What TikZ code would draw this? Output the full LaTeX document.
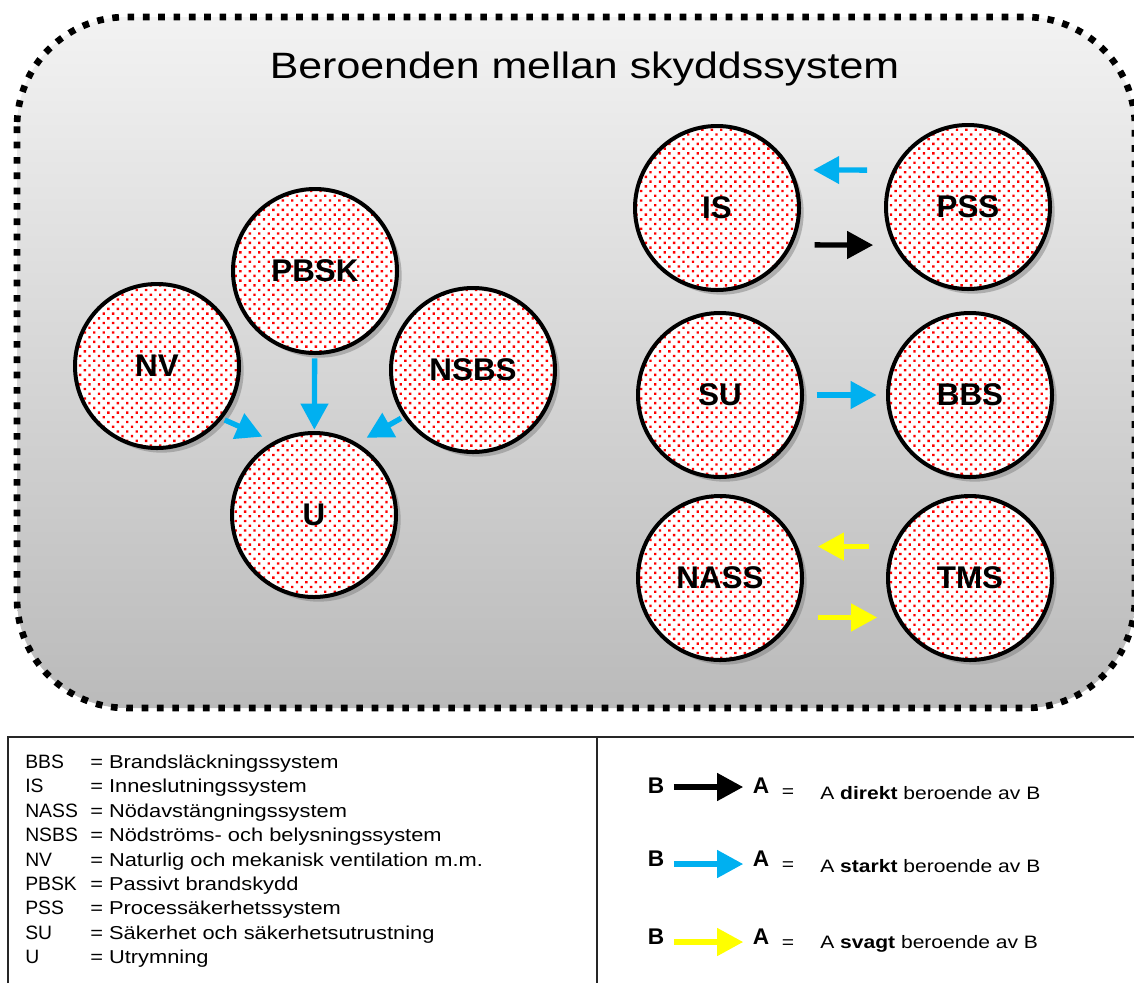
\documentclass[tikz,border=0pt]{standalone}
\usepackage{fontspec}
\setmainfont{Liberation Sans}
\newfontfamily\widefont{Liberation Sans}[FakeStretch=1.17]
\usetikzlibrary{arrows.meta,patterns.meta,shadows}
\definecolor{starkblue}{RGB}{0,176,240}
\definecolor{svaggul}{RGB}{255,255,0}

\begin{document}
\begin{tikzpicture}[
      x=0.75pt, y=-0.75pt,
      every node/.style={font=\widefont},
      frame/.style={draw=black, line width=5pt, dash pattern=on 5pt off 6.5pt, rounded corners=82pt, top color=black!5, bottom color=black!27},
      title/.style={anchor=base, inner sep=0pt, font=\widefont\fontsize{27.5}{33}\selectfont},
      sys/.style={circle, draw=black, line width=3pt, minimum size=123pt, inner sep=0pt,
          drop shadow={shadow xshift=3.5pt, shadow yshift=-3.5pt, fill=black!50},
          preaction={fill=white}, pattern={Dots[distance=5pt, radius=1.25pt, angle=45]}, pattern color=red,
          font=\normalfont\bfseries\fontsize{23.5}{28}\selectfont},
      link/.style={line width=4pt, -{Triangle[length=19.5pt, width=20pt]}},
      direkt/.style={link, draw=black},
      starkt/.style={link, draw=starkblue},
      svagt/.style={link, draw=svaggul},
      tablerule/.style={line width=1.3pt, draw=black!85},
      abbr/.style={anchor=base west, inner sep=0pt, font=\normalfont\fontsize{14.5}{17}\selectfont},
      desc/.style={abbr, font=\widefont\fontsize{14}{17}\selectfont},
      letter/.style={inner sep=0pt, font=\normalfont\bfseries\fontsize{17}{20}\selectfont},
      meaning/.style={anchor=west, inner sep=0pt, font=\widefont\fontsize{13.5}{16}\selectfont}
  ]
    \useasboundingbox (0,0) rectangle (1134,983);
    \clip (0,0) rectangle (1134,983);

    % frame with title
    \path[frame] (17,17) rectangle (1135,708);
    \node[title] (title) at (584.5,78) {Beroenden mellan skyddssystem};

    % systems
    \node[sys] (pbsk) at (315,271) {PBSK};
    \node[sys] (nv) at (157,366) {NV};
    \node[sys] (nsbs) at (473,370) {NSBS};
    \node[sys] (u) at (314,515) {U};
    \node[sys] (is) at (717,208) {IS};
    \node[sys] (pss) at (968,207) {PSS};
    \node[sys] (su) at (720,395) {SU};
    \node[sys] (bbs) at (970,395) {BBS};
    \node[sys] (nass) at (720,578) {NASS};
    \node[sys] (tms) at (970,578) {TMS};

    % dependencies
    \draw[starkt, shorten <=2.5pt, shorten >=1pt] (pbsk) -- (u);
    \draw[starkt, shorten <=2pt, shorten >=9pt] (nv.-39) -- (u.119);
    \draw[starkt, shorten <=2pt, shorten >=8pt] (nsbs.214) -- (u.59);
    \draw[starkt, shorten <=19pt, shorten >=16pt] (pss.154) -- (is.27);
    \draw[direkt, shorten <=16.5pt, shorten >=15pt] (is.-26) -- (pss.207);
    \draw[starkt, shorten <=9.5pt, shorten >=7pt] (su) -- (bbs);
    \draw[svagt, shorten <=17pt, shorten >=15pt] (tms.158) -- (nass.22);
    \draw[svagt, shorten <=18pt, shorten >=14pt] (nass.-28) -- (tms.208);

    % legend table
    \draw[tablerule] (8,983) -- (8,737) -- (1134,737);
    \draw[tablerule] (597,737) -- (597,983);
    \foreach \ab/\txt [count=\i] in {BBS/Brandsläckningssystem, IS/Inneslutningssystem, NASS/Nödavstängningssystem, NSBS/Nödströms- och belysningssystem, NV/Naturlig och mekanisk ventilation m.m., PBSK/Passivt brandskydd, PSS/Processäkerhetssystem, SU/Säkerhet och säkerhetsutrustning, U/Utrymning} {
      \node[abbr] (abbr\i) at (25,{768.5+24.4*(\i-1)}) {\ab};
      \node[desc] (desc\i) at (90,{768.5+24.4*(\i-1)}) {= \txt};
    }
    \foreach \kind/\y/\ay in {direkt/786/787, starkt/859/864, svagt/937/942} {
      \node[letter] (b\kind) at (656,\y) {B};
      \node[letter] (a\kind) at (761,\y) {A};
      \draw[\kind, shorten <=7pt, shorten >=7pt] (b\kind.east |- 0,\ay) -- (a\kind.west |- 0,\ay);
      \node[meaning, anchor=center] (eq\kind) at (788,{\y+7}) {=};
      \node[meaning] (txt\kind) at (820,{\y+7}) {A \textbf{\kind} beroende av B};
    }
  \end{tikzpicture}
\end{document}
